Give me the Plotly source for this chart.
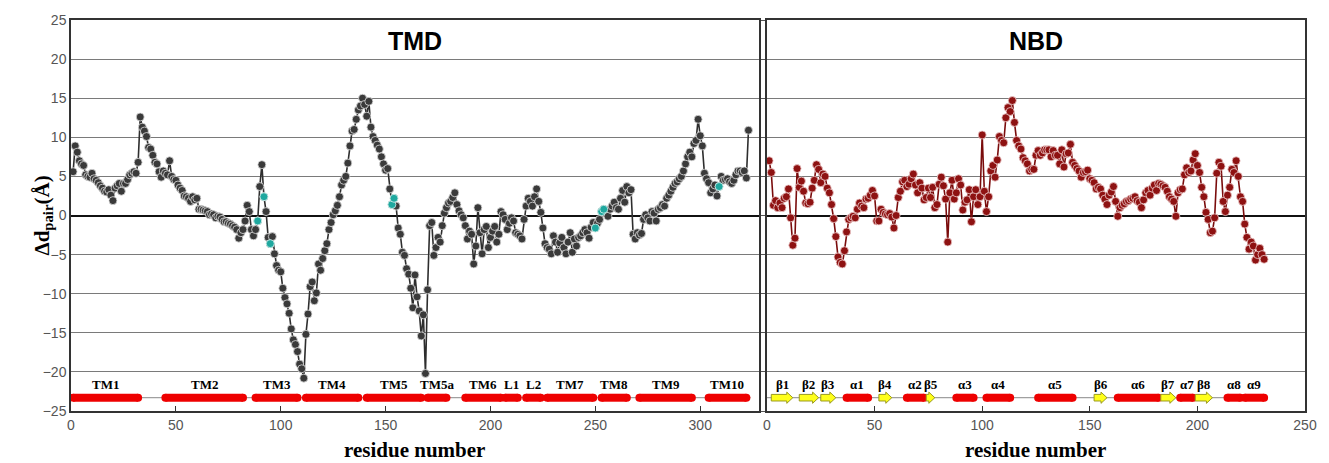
import plotly.graph_objects as go

# ---------------- data ----------------
tmd_res = list(range(1, 324))
tmd_val = [
    5.6, 8.9, 8.1, 7.0, 6.6, 6.4, 5.2, 5.0, 4.9, 5.4,
    4.7, 4.5, 4.2, 3.8, 3.5, 3.1, 3.0, 3.3, 2.6, 1.9,
    3.5, 3.8, 4.1, 3.1, 4.1, 4.1, 4.6, 5.2, 5.4, 5.6,
    5.4, 6.8, 12.6, 11.3, 10.8, 10.1, 8.7, 8.5, 7.7, 6.8,
    6.6, 5.6, 4.9, 5.7, 5.4, 5.2, 7.0, 5.0, 4.6, 4.5,
    3.9, 3.5, 3.2, 2.5, 2.4, 2.2, 1.8, 2.4, 2.0, 2.2,
    0.8, 0.8, 0.7, 0.6, 0.5, 0.1, 0.2, 0.1, -0.3, -0.1,
    -0.2, -0.5, -0.8, -0.8, -1.0, -1.1, -1.3, -1.5, -1.8, -2.9,
    -2.2, -1.8, -0.7, 1.3, 0.5, -1.8, -2.6, -1.8, -0.7, 3.7,
    6.5, 2.4, 0.5, -2.8, -3.6, -2.7, -4.9, -6.4, -7.0, -7.2,
    -9.3, -10.5, -11.3, -12.5, -14.5, -15.9, -16.5, -17.4, -19.0, -19.6,
    -20.8, -15.2, -12.6, -9.1, -8.5, -10.9, -9.9, -6.2, -7.0, -5.5,
    -4.5, -3.6, -1.8, -0.9, 0.1, 0.6, 1.3, 2.4, 3.9, 4.5,
    5.0, 6.7, 8.9, 10.8, 11.0, 12.3, 13.5, 14.0, 15.0, 14.2,
    12.7, 14.6, 11.3, 10.1, 9.6, 9.0, 8.5, 7.5, 6.6, 5.8,
    6.0, 3.4, 1.4, 2.2, 1.2, -1.6, -2.4, -4.7, -5.1, -6.8,
    -7.5, -9.3, -11.8, -7.6, -10.4, -12.2, -15.4, -12.7, -20.2, -9.5,
    -1.3, -0.9, -5.1, -4.1, -2.8, -3.4, -1.3, 0.3, 1.0, 1.6,
    1.8, 2.3, 2.9, 1.4, 0.6, 0.1, -0.3, -1.3, -3.0, -2.0,
    -2.4, -6.2, -3.9, 1.0, -2.2, -4.9, -1.8, -1.4, -4.1, -2.8,
    -2.0, -1.4, -3.4, -2.4, 0.5, 0.1, -0.5, -1.8, -1.0, -0.3,
    -0.7, -2.2, -2.4, -2.6, -3.0, -0.5, 1.2, 2.2, 1.8, 1.2,
    2.4, 3.4, 1.8, 0.4, -1.6, -3.6, -4.1, -4.3, -4.9, -2.6,
    -3.4, -4.7, -3.5, -2.8, -4.1, -4.9, -3.4, -2.2, -4.7, -3.0,
    -3.9, -2.8, -2.6, -2.2, -1.8, -2.2, -2.9, -1.5, -0.9, -1.6,
    -1.0, -0.5, 0.5, 0.8, 0.3, -0.1, 0.8, 1.2, 1.7, 1.0,
    0.8, 2.2, 3.2, 1.7, 3.7, 2.9, 3.3, -2.4, -3.0, -2.2,
    -2.5, -2.3, -0.5, 0.1, -0.3, -0.7, 0.5, 0.3, -0.7, 0.8,
    1.0, 1.4, 1.2, 2.2, 2.6, 3.1, 3.6, 4.1, 4.3, 4.7,
    5.0, 5.7, 6.6, 7.5, 8.1, 7.5, 9.2, 9.6, 12.3, 10.2,
    8.9, 5.4, 4.7, 4.2, 2.9, 3.4, 3.9, 2.5, 3.7, 5.0,
    4.5, 4.6, 4.7, 4.3, 4.1, 4.5, 5.2, 5.7, 5.7, 5.5,
    5.7, 4.8, 10.9,
]
tmd_highlight = [89, 92, 95, 153, 154, 250, 253, 254, 309]

nbd_res = list(range(1, 232))
nbd_val = [
    7.0, 5.5, 1.3, 1.9, 1.0, 1.6, 1.0, 2.2, 2.4, 3.4,
    -0.3, -3.8, -2.9, 6.0, 3.6, 4.4, 3.1, 1.6, 1.5, 1.7,
    3.5, 4.5, 6.5, 5.9, 4.2, 5.3, 5.0, 3.5, 2.9, 1.4,
    -0.4, -2.7, -5.3, -6.0, -6.2, -4.5, -2.1, -0.5, -0.3, -0.1,
    -0.3, 0.8, 1.6, 1.2, 1.0, 2.1, 2.2, 2.6, 3.2, 2.5,
    -0.7, -0.7, 0.8, 0.4, 0.2, 0.1, 0.25, -0.2, -1.6, 0.0,
    2.3, 3.1, 4.3, 4.5, 3.7, 4.0, 4.7, 5.3, 3.9, 2.9,
    4.2, 3.5, 2.0, 2.3, 3.5, 2.3, 3.6, 1.0, 1.4, 4.0,
    4.9, 3.8, 2.1, -3.4, 2.9, 4.5, 2.1, 2.9, 4.7, 3.9,
    0.7, 1.7, 2.0, 3.3, -0.8, 2.4, 3.3, 1.4, 2.4, 10.3,
    3.1, 0.5, 2.4, 5.7, 6.4, 4.9, 7.1, 10.1, 9.6, 9.3,
    12.5, 13.8, 13.3, 14.7, 11.9, 9.6, 8.9, 8.5, 7.4, 7.0,
    6.6, 5.7, 5.9, 5.9, 7.7, 8.3, 7.7, 8.0, 8.4, 8.4,
    8.4, 7.5, 8.3, 7.7, 7.7, 6.6, 8.4, 6.2, 7.9, 8.0,
    9.1, 6.8, 6.4, 6.0, 5.7, 4.9, 5.5, 5.6, 5.8, 4.7,
    4.5, 4.2, 3.4, 3.6, 3.4, 2.6, 2.1, 1.4, 2.6, 3.0,
    3.7, 1.8, -0.1, 1.0, 1.3, 1.5, 1.8, 1.9, 2.1, 2.2,
    2.4, 1.9, 1.7, 1.0, 2.0, 2.9, 3.2, 2.6, 3.5, 3.9,
    3.2, 4.1, 4.0, 3.8, 3.6, 3.1, 2.4, 2.1, 1.8, -0.1,
    2.9, 3.3, 3.4, 5.2, 6.1, 5.5, 5.7, 7.1, 7.9, 6.4,
    5.5, 3.6, 2.4, 0.4, -0.5, -2.2, -2.0, -0.3, 5.4, 6.8,
    6.3, 1.8, 0.5, 2.6, 3.6, 5.9, 5.5, 7.0, 5.0, 2.4,
    1.8, -1.1, -2.8, -4.3, -3.4, -3.9, -5.7, -5.0, -4.2, -5.0,
    -5.6,
]

tmd_ss_names = ["TM1", "TM2", "TM3", "TM4", "TM5", "TM5a", "TM6", "L1", "L2",
                "TM7", "TM8", "TM9", "TM10"]
tmd_ss_start = [1, 45, 88, 112, 141, 170, 188, 207, 217, 227, 253, 271, 304]
tmd_ss_end = [32, 82, 108, 137, 167, 179, 205, 213, 224, 249, 265, 296, 322]
tmd_ss_type = ["H"] * 13

nbd_ss_names = ["β1", "β2", "β3", "α1", "β4", "α2", "β5", "α3", "α4", "α5",
                "β6", "α6", "β7", "α7", "β8", "α8", "α9"]
nbd_ss_start = [2, 15, 25, 37, 52, 65, 74, 88, 102, 126, 152, 163, 183, 192, 199, 214, 222]
nbd_ss_end = [12, 24, 32, 47, 58, 73, 78, 96, 113, 142, 158, 182, 190, 198, 207, 220, 231]
nbd_ss_type = ["E", "E", "E", "H", "E", "H", "E", "H", "H", "H",
               "E", "H", "E", "H", "E", "H", "H"]

tmd_x_ticks = [0, 50, 100, 150, 200, 250, 300]
nbd_x_ticks = [0, 50, 100, 150, 200, 250]
y_ticks = [-25, -20, -15, -10, -5, 0, 5, 10, 15, 20, 25]

# ---------------- style ----------------
SS_Y = -23.3
LABEL_Y = -21.6
DARK = "#3a3a3a"
TEAL = "#1fa89f"
RED_DOT = "#8e1212"
HELIX = "#ee0000"
STRAND = "#ffff1a"
SERIF = "Liberation Serif, Times New Roman, serif"
SANS = "Liberation Sans, Arial, sans-serif"

fig = go.Figure()

# secondary structure baselines
fig.add_trace(go.Scatter(x=[0, 324], y=[SS_Y, SS_Y], mode="lines",
                         line=dict(color="#a0a0a0", width=1.2),
                         xaxis="x", yaxis="y", showlegend=False, hoverinfo="skip"))
fig.add_trace(go.Scatter(x=[0, 232], y=[SS_Y, SS_Y], mode="lines",
                         line=dict(color="#a0a0a0", width=1.2),
                         xaxis="x2", yaxis="y2", showlegend=False, hoverinfo="skip"))

# main series
fig.add_trace(go.Scatter(x=tmd_res, y=tmd_val, mode="lines+markers",
                         line=dict(color="#2e2e2e", width=1.6),
                         marker=dict(size=8, color=DARK,
                                     line=dict(color="#e0e0e0", width=0.8)),
                         xaxis="x", yaxis="y", showlegend=False))
hl_vals = [tmd_val[tmd_res.index(r)] for r in tmd_highlight]
fig.add_trace(go.Scatter(x=tmd_highlight, y=hl_vals, mode="markers",
                         marker=dict(size=8, color=TEAL,
                                     line=dict(color="#d8f0ee", width=0.8)),
                         xaxis="x", yaxis="y", showlegend=False))
fig.add_trace(go.Scatter(x=nbd_res, y=nbd_val, mode="lines+markers",
                         line=dict(color="#7a0c0c", width=1.6),
                         marker=dict(size=8, color=RED_DOT,
                                     line=dict(color="#f0d0d0", width=0.8)),
                         xaxis="x2", yaxis="y2", showlegend=False))

shapes = []
annotations = []


def add_ss(names, starts, ends, types, xa, ya):
    for n, s, e, t in zip(names, starts, ends, types):
        if t == "H":
            fig.add_trace(go.Scatter(x=[s, e], y=[SS_Y, SS_Y], mode="lines+markers",
                                     line=dict(color=HELIX, width=8),
                                     marker=dict(size=8, color=HELIX),
                                     xaxis=xa, yaxis=ya, showlegend=False,
                                     hoverinfo="skip"))
        else:
            hl = 2.8
            bh = 0.42
            hh = 0.72
            path = (f"M {s},{SS_Y - bh} L {e - hl},{SS_Y - bh} L {e - hl},{SS_Y - hh} "
                    f"L {e},{SS_Y} L {e - hl},{SS_Y + hh} L {e - hl},{SS_Y + bh} "
                    f"L {s},{SS_Y + bh} Z")
            shapes.append(dict(type="path", path=path, xref=xa, yref=ya,
                               fillcolor=STRAND, line=dict(color="#9a9a20", width=1)))
        annotations.append(dict(x=(s + e) / 2, y=LABEL_Y, xref=xa, yref=ya,
                                text=f"<b>{n}</b>", showarrow=False,
                                font=dict(family=SERIF, size=13, color="black")))


add_ss(tmd_ss_names, tmd_ss_start, tmd_ss_end, tmd_ss_type, "x", "y")
add_ss(nbd_ss_names, nbd_ss_start, nbd_ss_end, nbd_ss_type, "x2", "y2")

# panel titles
annotations.append(dict(x=0.5, y=22.3, xref="x domain", yref="y", text="<b>TMD</b>",
                        showarrow=False, font=dict(family=SANS, size=25, color="black")))
annotations.append(dict(x=0.5, y=22.3, xref="x2 domain", yref="y2", text="<b>NBD</b>",
                        showarrow=False, font=dict(family=SANS, size=25, color="black")))
# x titles
for xr in ["x domain", "x2 domain"]:
    annotations.append(dict(x=0.5, y=0, xref=xr, yref="paper", yshift=-39,
                            yanchor="middle", text="<b>residue number</b>",
                            showarrow=False,
                            font=dict(family=SERIF, size=21, color="black")))
# y title
annotations.append(dict(x=0, y=0.5, xref="paper", yref="paper", xshift=-44,
                        textangle=-90, text="<b>Δd<sub>pair</sub>(Å)</b>",
                        showarrow=False, font=dict(family=SERIF, size=21, color="black")))

axis_common = dict(showline=True, mirror=True, linecolor="#333333", linewidth=1.5,
                   tickfont=dict(family=SANS, size=14, color="#555555"))

fig.update_layout(
    width=1329, height=463,
    margin=dict(l=71, r=22, t=13, b=52),
    paper_bgcolor="white", plot_bgcolor="white",
    shapes=shapes, annotations=annotations,
    xaxis=dict(domain=[0, 0.5575], range=[0, 328], tickvals=tmd_x_ticks,
               ticks="inside", ticklen=5, tickcolor="#333", showgrid=False,
               zeroline=False, anchor="y", **axis_common),
    xaxis2=dict(domain=[0.564, 1], range=[0, 250], tickvals=nbd_x_ticks,
                ticks="inside", ticklen=5, tickcolor="#333", showgrid=False,
                zeroline=False, anchor="y2", **axis_common),
    yaxis=dict(range=[-25, 25], tickvals=y_ticks, showgrid=True,
               gridcolor="#7a7a7a", gridwidth=1.3, zeroline=True,
               zerolinecolor="#111111", zerolinewidth=2, ticks="",
               anchor="x", **axis_common),
    yaxis2=dict(range=[-25, 25], tickvals=y_ticks, showgrid=True,
                gridcolor="#7a7a7a", gridwidth=1.3, zeroline=True,
                zerolinecolor="#111111", zerolinewidth=2, ticks="outside",
                ticklen=4, tickcolor="#555", showticklabels=False,
                anchor="x2", **axis_common),
)

fig.write_html("out.html", config={"displayModeBar": False},
               post_script="document.body.style.margin='0';document.body.style.overflow='hidden';")
